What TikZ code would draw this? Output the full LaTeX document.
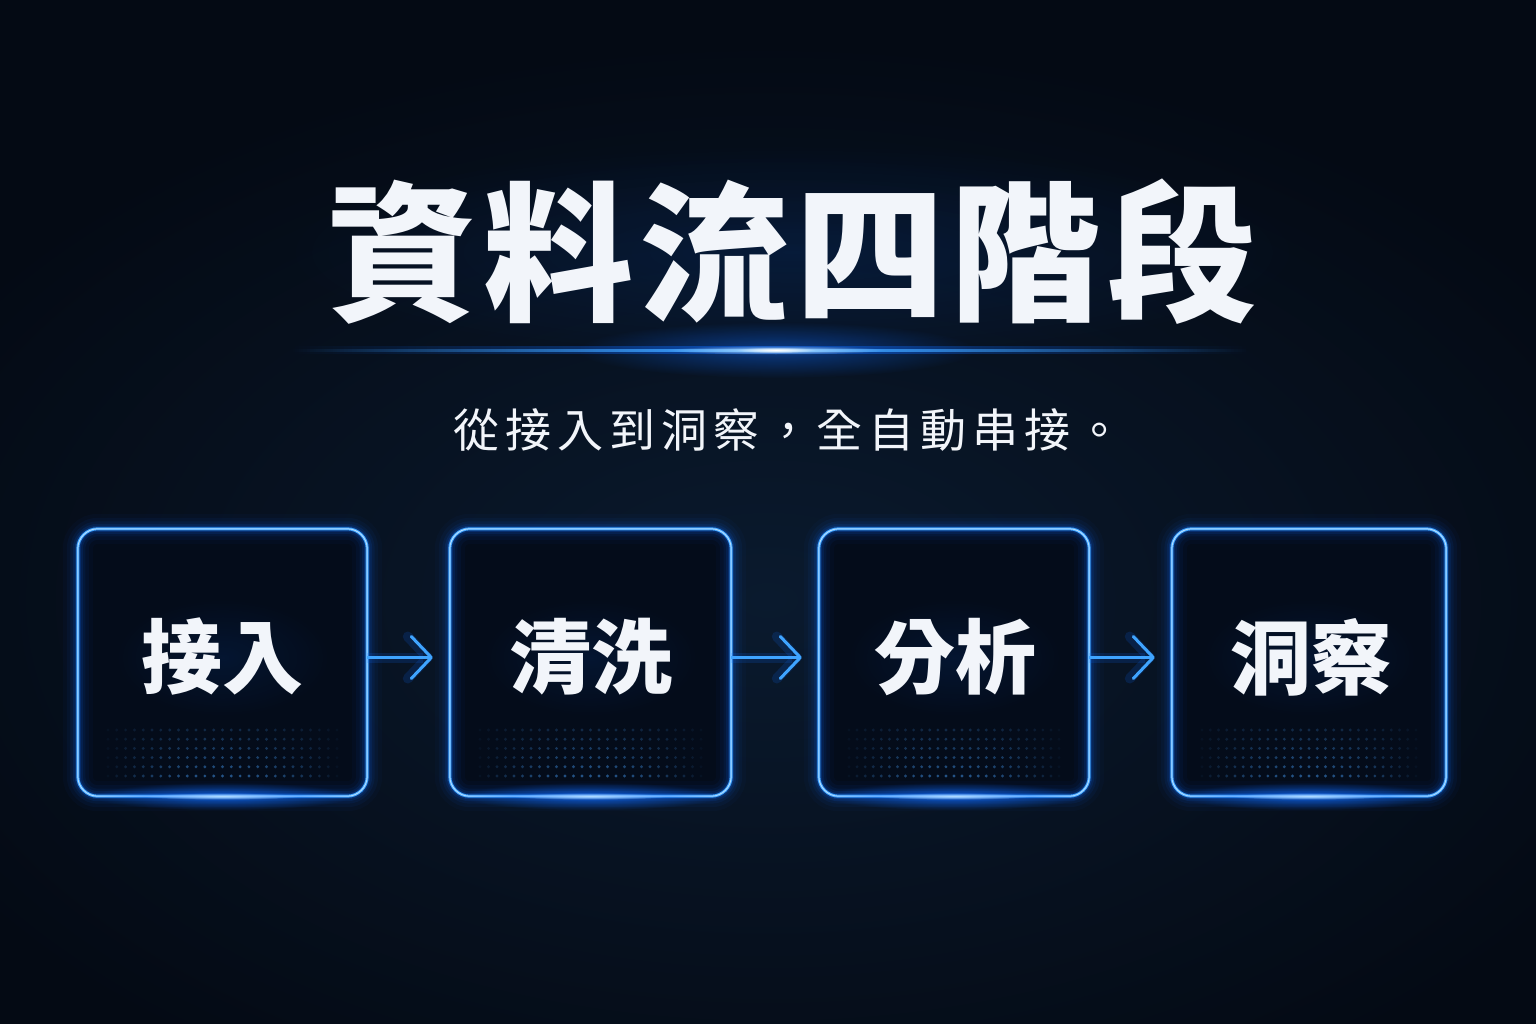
\documentclass[tikz,border=0pt]{standalone}
\usepackage{fontspec}
\newfontfamily\cjk{Noto Sans CJK TC}
\usetikzlibrary{arrows.meta,fadings,calc}
\definecolor{bg}{HTML}{040A14}
\definecolor{bgc}{HTML}{0A1A2E}
\definecolor{boxfill}{HTML}{040C1A}
\definecolor{edge}{HTML}{3FA4FF}
\definecolor{edgecore}{HTML}{B4DEFF}
\definecolor{glowc}{HTML}{0E6BFF}
\definecolor{dotc}{HTML}{3579C0}
\definecolor{txt}{HTML}{F2F5FA}
\tikzfading[name=radfade, inner color=transparent!0, outer color=transparent!100]
\tikzfading[name=hfade, left color=transparent!100, right color=transparent!100, middle color=transparent!0]
\tikzset{
  stagebox/.style={rounded corners=20pt, minimum height=267pt, fill=boxfill, inner sep=0pt},
  labelfont/.style={font=\cjk\bfseries\fontsize{81}{92}\selectfont},
  flow/.style={edge, line width=3pt, -{Straight Barb[length=20pt, width=42pt, line width=3pt, round]}},
  flowglow/.style={glowc, line width=10pt, opacity=0.16, -{Straight Barb[length=20pt, width=42pt, line width=10pt, round]}},
}
\begin{document}
\begin{tikzpicture}[x=1pt,y=-1pt]
\useasboundingbox (0,0) rectangle (1536,1024);
\clip (0,0) rectangle (1536,1024);
\fill[bg] (0,0) rectangle (1536,1024);
\shade[inner color=bgc, outer color=bg] (768,600) ellipse [x radius=950, y radius=560];

% title
\coordinate (tc) at (792,252);
\fill[glowc, opacity=0.12, path fading=radfade] (tc) ellipse [x radius=520, y radius=110];
\node[font=\cjk\bfseries\fontsize{150}{160}\selectfont\addfontfeatures{LetterSpace=4}, text=txt] (title) at (tc) {資料流四階段};

% glow line
\coordinate (gl) at (292,350);
\coordinate (gr) at (1248,350);
\coordinate (flare) at (776,350);
\fill[glowc, opacity=0.45, path fading=radfade] (flare) ellipse [x radius=200, y radius=28];
\fill[glowc, opacity=0.5, path fading=hfade] ([yshift=4pt]gl) rectangle ([yshift=-4pt]gr);
\fill[edge, path fading=hfade] ([yshift=1.5pt]gl) rectangle ([yshift=-1.5pt]gr);
\fill[edgecore, path fading=radfade] (flare) ellipse [x radius=110, y radius=4.5];
\fill[white, path fading=radfade] (flare) ellipse [x radius=40, y radius=3];

% subtitle
\node[font=\cjk\fontsize{46}{52}\selectfont\addfontfeatures{LetterSpace=13}, text=txt] (sub) at (788,430) {從接入到洞察，全自動串接。};

% boxes
\node[stagebox, minimum width=289pt] (b1) at (222.5,662.5) {};
\node[stagebox, minimum width=281pt] (b2) at (590.5,662.5) {};
\node[stagebox, minimum width=270pt] (b3) at (954,662.5) {};
\node[stagebox, minimum width=274pt] (b4) at (1309,662.5) {};

% dots
\foreach \l/\r in {78/367,450/731,819/1089,1172/1446}{
  \foreach \i in {0,...,26}{
    \foreach \j in {0,...,5}{
      \pgfmathsetmacro\xx{\l+30+\i*(\r-\l-60)/26}
      \pgfmathsetmacro\uu{abs(\i-13)/13}
      \pgfmathsetmacro\op{0.06+0.6*(1-\uu*\uu)*(0.35+0.65*\j/5)}
      \fill[dotc, opacity=\op] (\xx,{730+\j*9.2}) circle (1.6);
    }
  }
}

% glow on boxes
\foreach \b in {b1,b2,b3,b4}{
  \foreach \w/\o in {30/0.03,22/0.05,15/0.07,10/0.10,6/0.18}
    \draw[glowc, line width=\w pt, opacity=\o, rounded corners=20pt] (\b.north west) rectangle (\b.south east);
  \draw[edge, line width=3pt, rounded corners=20pt] (\b.north west) rectangle (\b.south east);
  \draw[edgecore, line width=1pt, rounded corners=20pt] (\b.north west) rectangle (\b.south east);
  \fill[glowc, opacity=0.7, path fading=radfade] (\b.south) ellipse [x radius=130, y radius=14];
  \fill[edgecore, path fading=radfade] (\b.south) ellipse [x radius=80, y radius=3.5];
  \fill[glowc, opacity=0.10, path fading=radfade] ([yshift=5pt]\b.center) ellipse [x radius=110, y radius=60];
}

% labels
\node[labelfont, text=txt] (l1) at (222,657) {接入};
\node[labelfont, text=txt] (l2) at (591,657) {清洗};
\node[labelfont, text=txt] (l3) at (955,657) {分析};
\node[labelfont, text=txt] (l4) at (1311,657) {洞察};

% arrows
\foreach \a/\b in {b1/b2,b2/b3,b3/b4}{
  \draw[flowglow] ([yshift=5pt]\a.east) -- ([xshift=-17pt,yshift=5pt]\b.west);
  \draw[flow] ([yshift=5pt]\a.east) -- ([xshift=-17pt,yshift=5pt]\b.west);
}
\end{tikzpicture}
\end{document}
